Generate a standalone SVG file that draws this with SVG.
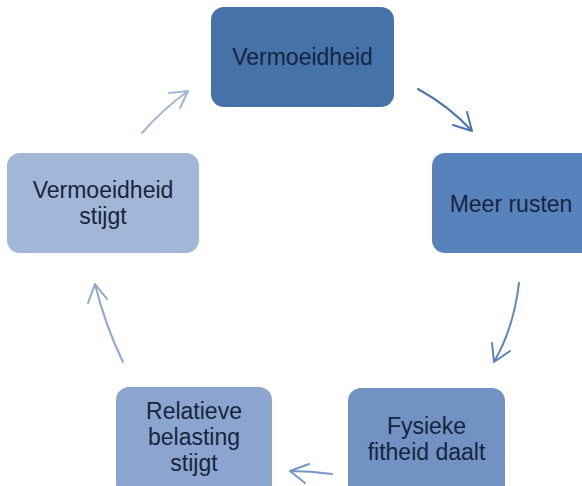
<svg xmlns="http://www.w3.org/2000/svg" width="582" height="486" viewBox="0 0 582 486">
<style>
.lbl{font-family:"Liberation Sans",Arial,sans-serif;font-size:23px;fill:#15253d;text-anchor:middle}
.con{fill:none;stroke-width:2;stroke-linecap:round;stroke-linejoin:round}
</style>
<rect width="582" height="486" fill="#ffffff"/>
<g id="n1">
<rect x="211" y="7" width="183" height="100" rx="13" fill="#4672aa"/>
<text class="lbl" x="302.5" y="65">Vermoeidheid</text>
</g>
<g id="n2">
<rect x="432" y="153" width="183" height="100" rx="13" fill="#5882bb"/>
<text class="lbl" x="511" y="212">Meer rusten</text>
</g>
<g id="n3">
<rect x="348" y="388" width="157" height="110" rx="13" fill="#7192c3"/>
<text class="lbl" x="426.5" y="434">Fysieke</text>
<text class="lbl" x="426.5" y="460">fitheid daalt</text>
</g>
<g id="n4">
<rect x="116" y="387" width="156" height="110" rx="13" fill="#8ba5cf"/>
<text class="lbl" x="194" y="419">Relatieve</text>
<text class="lbl" x="194" y="445">belasting</text>
<text class="lbl" x="194" y="471">stijgt</text>
</g>
<g id="n5">
<rect x="7" y="153" width="192" height="100" rx="13" fill="#a2b6d8"/>
<text class="lbl" x="103" y="198">Vermoeidheid</text>
<text class="lbl" x="103" y="224">stijgt</text>
</g>
<g id="connectors">
<path class="con" stroke="#4b76b0" d="M418,89 Q449,106 472,131 M467,112 L472,131 L453,125"/>
<path class="con" stroke="#5c84bd" d="M519,283 Q514,327 494,362 M492,343 L494,362 L510,351"/>
<path class="con" stroke="#7797c7" d="M332,474 Q311,471 290,471 M309,464 L290,471 L305,483"/>
<path class="con" stroke="#8ca7d0" d="M123,362 Q105,325 95,284 M88,303 L95,284 L107,299"/>
<path class="con" stroke="#a1b6d8" d="M142,133 Q163,109 188,91 M169,93 L188,91 L180,108"/>
</g>
</svg>
